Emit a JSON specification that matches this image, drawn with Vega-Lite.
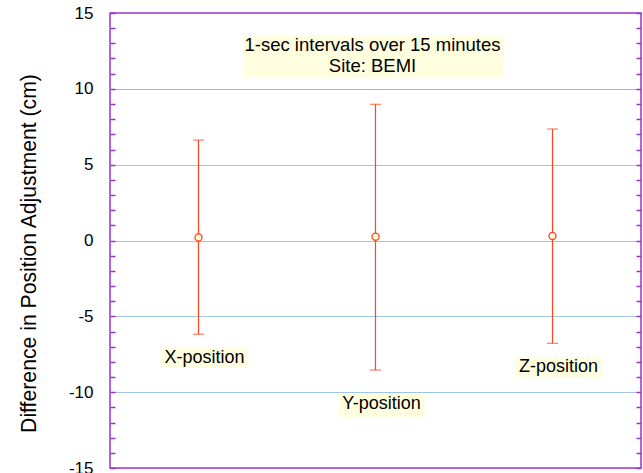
{
  "$schema": "https://vega.github.io/schema/vega-lite/v6.json",
  "width": 531,
  "height": 455,
  "autosize": "none",
  "padding": {"left": 110, "top": 13, "right": 2, "bottom": 5},
  "background": "white",
  "config": {
    "font": "Liberation Sans",
    "view": {"stroke": "#9933cc", "strokeWidth": 1.5}
  },
  "datasets": {
    "stats": [
      {"axis": "X", "mean": 0.2, "lo": -6.18, "hi": 6.62},
      {"axis": "Y", "mean": 0.25, "lo": -8.54, "hi": 8.98},
      {"axis": "Z", "mean": 0.3, "lo": -6.78, "hi": 7.35}
    ],
    "labels": [
      {"axis": "X", "text": "X-position", "ty": -7.75, "top": -7.09, "bottom": -8.41},
      {"axis": "Y", "text": "Y-position", "ty": -10.78, "top": -10.12, "bottom": -11.64},
      {"axis": "Z", "text": "Z-position", "ty": -8.34, "top": -7.68, "bottom": -9.06}
    ],
    "note": [
      {"axis": "Y", "line1": "1-sec intervals over 15 minutes", "line2": "Site: BEMI", "y1": 12.89, "y2": 11.5, "top": 13.5, "bottom": 10.7}
    ]
  },
  "resolve": {"axis": {"y": "independent"}},
  "layer": [
    {
      "data": {"name": "stats"},
      "mark": {"type": "rule", "color": "#ff4422", "strokeWidth": 1.2},
      "encoding": {
        "x": {"field": "axis", "type": "nominal", "axis": null,
              "scale": {"domain": ["X", "Y", "Z"], "paddingInner": 0, "paddingOuter": 0}},
        "y": {
          "field": "lo", "type": "quantitative",
          "scale": {"domain": [-15, 15], "nice": false, "zero": false},
          "axis": {
            "orient": "left",
            "title": "Difference in Position Adjustment (cm)",
            "titleFont": "Liberation Sans",
            "titleFontSize": 21.2,
            "titleFontWeight": "normal",
            "titleColor": "black",
            "titleLimit": 1000,
            "titlePadding": 29,
            "titleY": 240,
            "titleAlign": "center",
            "values": [-15,-14,-13,-12,-11,-10,-9,-8,-7,-6,-5,-4,-3,-2,-1,0,1,2,3,4,5,6,7,8,9,10,11,12,13,14,15],
            "labelExpr": "datum.value % 5 === 0 ? '' + datum.value : ''",
            "labelFont": "Liberation Sans",
            "labelFontSize": 17,
            "labelColor": "black",
            "labelPadding": 22,
            "labelOverlap": false,
            "labelBound": false,
            "labelFlush": false,
            "domain": false,
            "ticks": true,
            "tickSize": -5,
            "tickColor": "#9933cc",
            "tickWidth": 1.5,
            "grid": true,
            "gridColor": {"condition": {"test": "datum.value === 10", "value": "#b4b4b4"}, "value": "#9fc8e0"},
            "gridOpacity": {"condition": {"test": "datum.value % 5 === 0 && abs(datum.value) < 15", "value": 1}, "value": 0},
            "gridWidth": 1.2
          }
        },
        "y2": {"field": "hi"}
      }
    },
    {
      "data": {"name": "stats"},
      "mark": {"type": "tick", "color": "#ff4422", "thickness": 1.2, "size": 11, "orient": "horizontal"},
      "encoding": {
        "x": {"field": "axis", "type": "nominal"},
        "y": {"field": "lo", "type": "quantitative",
              "axis": {"orient": "right", "title": null, "labels": false, "domain": false,
                       "values": [-15,-14,-13,-12,-11,-10,-9,-8,-7,-6,-5,-4,-3,-2,-1,0,1,2,3,4,5,6,7,8,9,10,11,12,13,14,15],
                       "tickSize": -5, "tickColor": "#9933cc", "tickWidth": 1.5, "grid": false}}
      }
    },
    {
      "data": {"name": "stats"},
      "mark": {"type": "tick", "color": "#ff4422", "thickness": 1.2, "size": 11, "orient": "horizontal"},
      "encoding": {
        "x": {"field": "axis", "type": "nominal"},
        "y": {"field": "hi", "type": "quantitative", "axis": null}
      }
    },
    {
      "data": {"name": "stats"},
      "mark": {"type": "point", "filled": true, "fill": "#ffffe0", "stroke": "#ff4422", "strokeWidth": 1.3, "size": 50, "opacity": 1},
      "encoding": {
        "x": {"field": "axis", "type": "nominal"},
        "y": {"field": "mean", "type": "quantitative", "axis": null}
      }
    },
    {
      "data": {"name": "labels"},
      "mark": {"type": "bar", "color": "#ffffe0", "width": 86, "xOffset": 6},
      "encoding": {
        "x": {"field": "axis", "type": "nominal"},
        "y": {"field": "top", "type": "quantitative", "axis": null},
        "y2": {"field": "bottom"}
      }
    },
    {
      "data": {"name": "labels"},
      "mark": {"type": "text", "font": "Liberation Sans", "fontSize": 18, "color": "black", "dx": 6, "baseline": "middle"},
      "encoding": {
        "x": {"field": "axis", "type": "nominal"},
        "y": {"field": "ty", "type": "quantitative", "axis": null},
        "text": {"field": "text"}
      }
    },
    {
      "data": {"name": "note"},
      "mark": {"type": "bar", "color": "#ffffe0", "width": 260, "xOffset": -2},
      "encoding": {
        "x": {"field": "axis", "type": "nominal"},
        "y": {"field": "top", "type": "quantitative", "axis": null},
        "y2": {"field": "bottom"}
      }
    },
    {
      "data": {"name": "note"},
      "mark": {"type": "text", "font": "Liberation Sans", "fontSize": 18.5, "color": "black", "dx": -3, "baseline": "middle"},
      "encoding": {
        "x": {"field": "axis", "type": "nominal"},
        "y": {"field": "y1", "type": "quantitative", "axis": null},
        "text": {"field": "line1"}
      }
    },
    {
      "data": {"name": "note"},
      "mark": {"type": "text", "font": "Liberation Sans", "fontSize": 18.5, "color": "black", "dx": -3, "baseline": "middle"},
      "encoding": {
        "x": {"field": "axis", "type": "nominal"},
        "y": {"field": "y2", "type": "quantitative", "axis": null},
        "text": {"field": "line2"}
      }
    }
  ]
}
